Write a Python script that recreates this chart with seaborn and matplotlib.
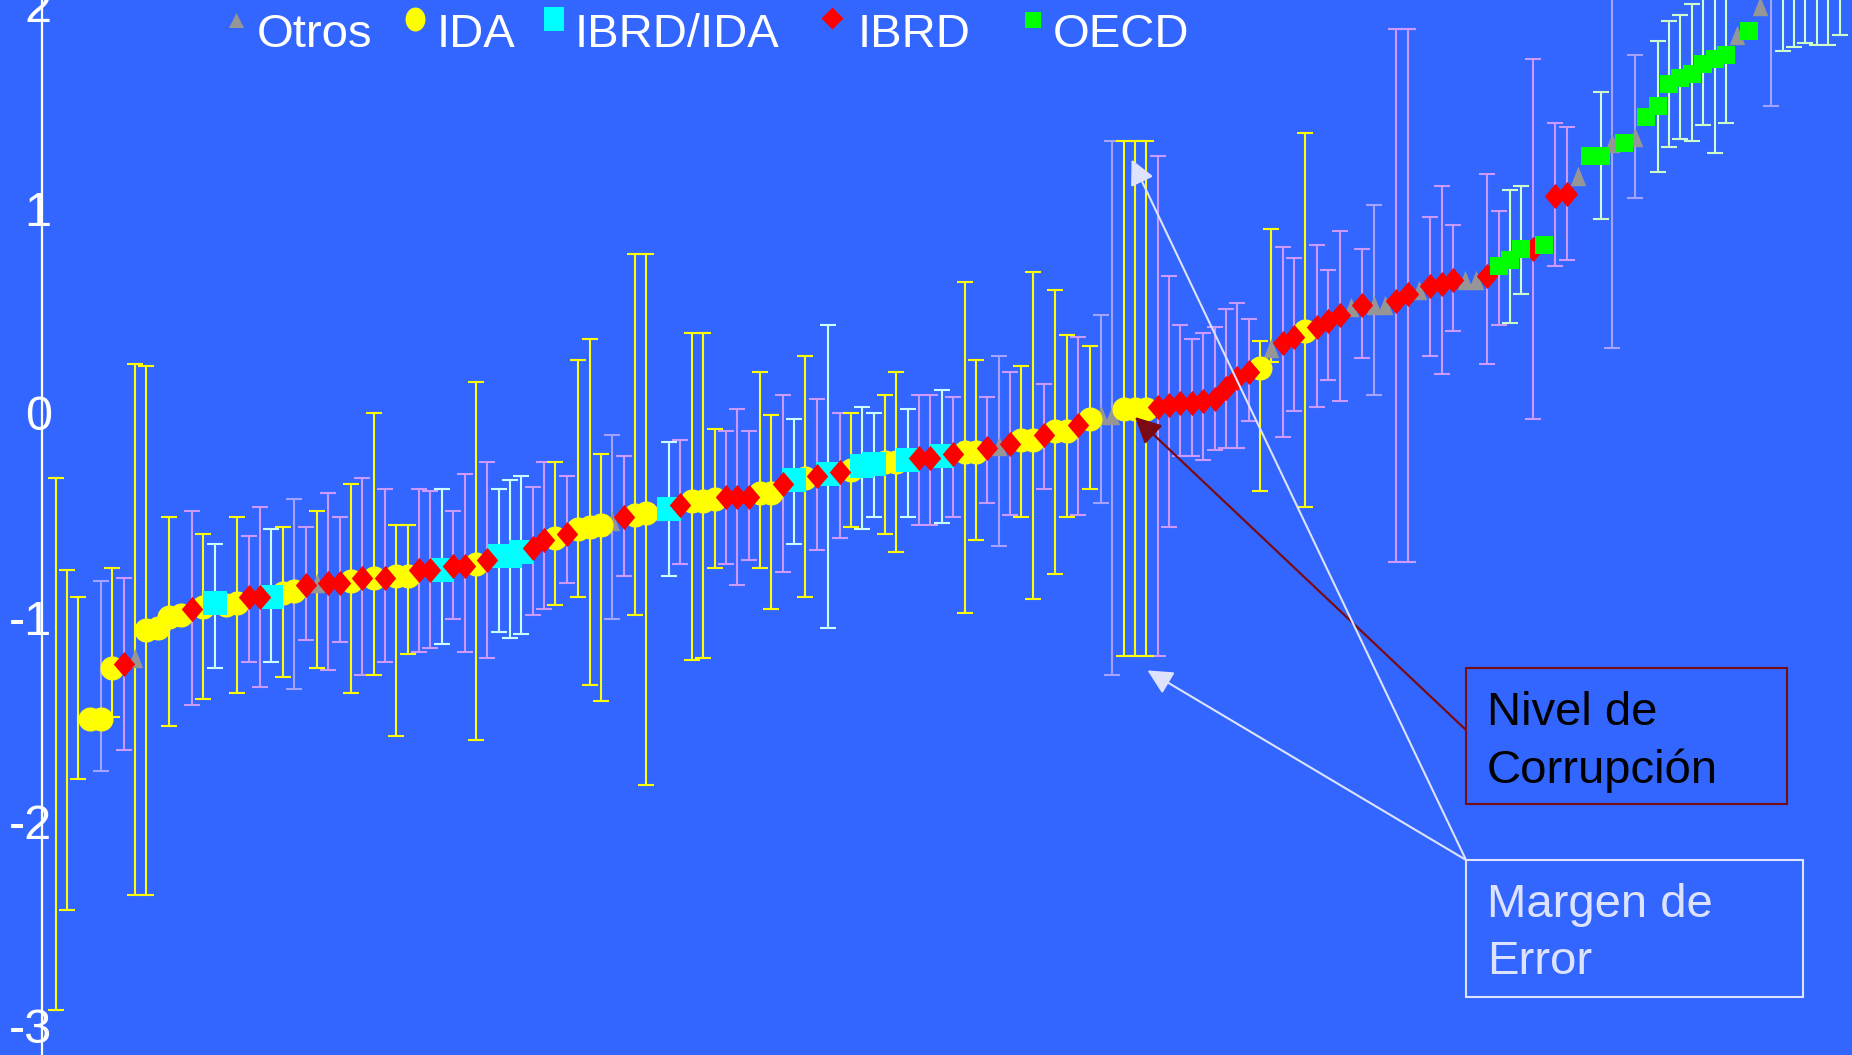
import numpy as np
import pandas as pd
import matplotlib
matplotlib.use("Agg")
import matplotlib.pyplot as plt
import seaborn as sns
from matplotlib.patches import Rectangle

# ---------------- data ----------------
# category of each country (I=IDA, C=IBRD/IDA, B=IBRD, O=Otros, E=OECD)
groups = ("IIIIIIBOII" "IIBICIIBBC" "IIBOBBIBIB" "IIBBCBBIBC" "CCBBIBIIIO"
          "BIIOCBIIIB" "BBIIBCIBCB" "ICCIICBBCB" "IIBOBIIBII" "BIOOIIIBBB"
          "BBBBBBIOBB" "IBBBOBOOBB" "OBBBOOBEEE" "BEBBOEEOEO" "EEEEEEEEOE"
          "OOEEEEEE")
# colour group of each error bar as drawn
bar_groups = ("IIIIOIBIII" "IIBICIIBBC" "IOBIBBIBIB" "IIBBCBBIBC" "CCBBIBIIIO"
              "BIIOCBIIIB" "BBIIBCIBCB" "ICCIICBBCB" "IIBOBIIBII" "BIOOIIIBBB"
              "BBBBBBIIBB" "IBBBOBOOBB" "OBBBOOBBEE" "BEBBOEEOEO" "EEEEEEEEOE"
              "OOEEEEEE")
nan = np.nan
estimate = [
    nan, nan, nan, -1.50, -1.50, -1.25, -1.23, -1.20, -1.06, -1.05,
    -1.00, -0.99, -0.96, -0.95, -0.93, -0.94, -0.93, -0.90, -0.90, -0.90,
    -0.88, -0.87, -0.84, -0.83, -0.83, -0.83, -0.82, -0.81, -0.81, -0.81,
    -0.80, -0.80, -0.77, -0.77, -0.77, -0.75, -0.75, -0.74, -0.72, -0.70,
    -0.70, -0.68, -0.66, -0.62, -0.61, -0.59, -0.57, -0.56, -0.55, -0.53,
    -0.51, -0.50, -0.49, -0.48, -0.47, -0.45, -0.43, -0.43, -0.42, -0.41,
    -0.41, -0.41, -0.39, -0.39, -0.35, -0.33, -0.32, -0.31, -0.30, -0.29,
    -0.28, -0.26, -0.25, -0.24, -0.24, -0.23, -0.22, -0.22, -0.21, -0.20,
    -0.19, -0.19, -0.17, -0.16, -0.15, -0.13, -0.13, -0.11, -0.09, -0.09,
    -0.06, -0.03, -0.01, -0.01, 0.02, 0.02, 0.02, 0.03, 0.04, 0.05,
    0.05, 0.06, 0.07, 0.12, 0.17, 0.20, 0.22, 0.32, 0.34, 0.37,
    0.40, 0.42, 0.45, 0.48, 0.52, 0.53, 0.53, 0.53, 0.55, 0.58,
    0.60, 0.62, 0.63, 0.65, 0.65, 0.65, 0.67, 0.72, 0.75, 0.80,
    0.80, 0.82, 1.06, 1.07, 1.16, 1.26, 1.26, 1.32, 1.32, 1.35,
    1.45, 1.50, 1.61, 1.64, 1.66, 1.71, 1.73, 1.75, 1.85, 1.87,
    1.99, 2.10, 2.12, 2.14, 2.16, 2.18, 2.20, 2.24]
lower = [
    -2.92, -2.43, -1.79, nan, -1.75, -1.49, -1.65, -2.36, -2.36, nan,
    -1.53, nan, -1.43, -1.40, -1.25, nan, -1.37, -1.22, -1.34, -1.22,
    -1.29, -1.35, -1.11, -1.25, -1.26, -1.12, -1.37, -1.28, -1.28, -1.22,
    -1.58, -1.18, -1.17, -1.15, -1.13, -1.01, -1.17, -1.60, -1.20, -1.07,
    -1.10, -1.08, -0.99, -0.96, -0.94, -0.83, -0.90, -1.33, -1.41, -1.01,
    -0.80, -0.99, -1.82, nan, -0.80, -0.74, -1.21, -1.20, -0.76, -0.74,
    -0.84, -0.72, -0.76, -0.96, -0.78, -0.64, -0.90, -0.67, -1.05, -0.61,
    -0.56, -0.57, -0.51, -0.59, -0.68, -0.51, -0.55, -0.55, -0.54, -0.51,
    -0.98, -0.62, -0.44, -0.65, -0.50, -0.51, -0.91, -0.37, -0.79, -0.51,
    -0.50, -0.37, -0.44, -1.28, -1.19, -1.19, -1.19, -1.19, -0.56, -0.21,
    -0.21, -0.23, -0.18, -0.17, -0.17, -0.04, -0.38, 0.25, -0.12, 0.01,
    -0.46, 0.03, 0.16, 0.06, nan, 0.27, 0.09, nan, -0.73, -0.73,
    nan, 0.28, 0.19, 0.40, nan, nan, 0.24, 0.43, 0.44, 0.58,
    -0.03, nan, 0.72, 0.75, nan, nan, 0.95, 0.32, nan, 1.05,
    nan, 1.18, 1.30, 1.34, 1.33, 1.41, 1.27, 1.42, nan, nan,
    nan, 1.50, 1.77, 1.79, 1.81, 1.80, 1.80, 1.85]
upper = [
    -0.32, -0.77, -0.90, nan, -0.82, -0.76, -0.81, 0.24, 0.23, nan,
    -0.51, nan, -0.48, -0.59, -0.64, nan, -0.51, -0.60, -0.46, -0.57,
    -0.56, -0.42, -0.56, -0.48, -0.39, -0.51, -0.35, -0.32, 0.00, -0.37,
    -0.55, -0.55, -0.37, -0.38, -0.37, -0.48, -0.30, 0.15, -0.24, -0.37,
    -0.33, -0.31, -0.36, -0.24, -0.24, -0.31, 0.26, 0.36, -0.20, -0.11,
    -0.21, 0.78, 0.78, nan, -0.14, -0.13, 0.39, 0.39, -0.08, -0.09,
    0.02, -0.09, 0.20, -0.01, 0.09, -0.03, 0.28, 0.07, 0.43, 0.00,
    0.00, 0.03, 0.00, 0.09, 0.20, 0.02, 0.09, 0.09, 0.11, 0.08,
    0.64, 0.26, 0.08, 0.28, 0.20, 0.23, 0.69, 0.14, 0.60, 0.38,
    0.37, 0.33, 0.48, 1.33, 1.33, 1.33, 1.33, 1.26, 0.67, 0.43,
    0.36, 0.39, 0.42, 0.51, 0.54, 0.46, 0.35, 0.90, 0.81, 0.76,
    1.37, 0.82, 0.70, 0.89, nan, 0.80, 1.02, nan, 1.88, 1.88,
    nan, 0.96, 1.11, 0.92, nan, nan, 1.17, 0.99, 1.09, 1.11,
    1.73, nan, 1.42, 1.40, nan, nan, 1.57, 2.30, nan, 1.75,
    nan, 1.82, 1.92, 1.95, 2.00, 2.30, 2.30, 2.30, nan, nan,
    nan, 2.60, 2.60, 2.60, 2.60, 2.60, 2.60, 2.60]

legend_labels = ["Otros", "IDA", "IBRD/IDA", "IBRD", "OECD"]
legend_codes = ["O", "I", "C", "B", "E"]
yticks = [-3, -2, -1, 0, 1, 2]
ytick_labels = ["-3", "-2", "-1", "0", "1", "2"]
box1_lines = ["Nivel de", "Corrupción"]
box2_lines = ["Margen de", "Error"]

# ---------------- styling ----------------
sns.set_style("white")
plt.rcParams["font.family"] = ["Liberation Sans", "DejaVu Sans"]

BG = "#3366FF"
point_color = {"O": "#969696", "I": "#FFFF00", "C": "#00FFFF", "B": "#FF0000", "E": "#00FF00"}
bar_color = {"O": "#A3A3FF", "I": "#FFFF00", "C": "#CCFFFF", "B": "#CC99FF", "E": "#CCFFCC"}

tri = [(0, 1), (-0.8, -1), (0.8, -1)]
diam = [(0, 1), (0.85, 0), (0, -1), (-0.85, 0)]
point_marker = {"O": (tri, 195), "I": ("o", 300), "C": ("s", 300), "B": (diam, 330), "E": ("s", 150)}

W, H = 1852, 1055
fig = plt.figure(figsize=(W / 100, H / 100), dpi=100)
fig.patch.set_facecolor(BG)
ax = fig.add_axes([0, 0, 1, 1])
ax.set_facecolor(BG)

n = len(estimate)
df = pd.DataFrame({
    "pos": np.arange(n),
    "est": np.array(estimate, dtype=float),
    "lo": np.array(lower, dtype=float),
    "hi": np.array(upper, dtype=float),
    "grp": list(groups),
    "bgrp": list(bar_groups),
})

# error bars
for g in ["O", "B", "C", "E", "I"]:
    sub = df[(df.bgrp == g) & df.lo.notna()]
    mid = (sub.lo + sub.hi) / 2
    err = (sub.hi - sub.lo) / 2
    ax.errorbar(sub.pos, mid, yerr=err, fmt="none", ecolor=bar_color[g],
                elinewidth=1.5, capsize=5.8, capthick=1.5, zorder=2)

# points
for g in ["O", "I", "C", "B", "E"]:
    sub = df[(df.grp == g) & df.est.notna()]
    mk, s = point_marker[g]
    sns.scatterplot(data=sub, x="pos", y="est", marker=mk, s=s,
                    color=point_color[g], linewidth=0, ax=ax, zorder=3,
                    legend=False)

ax.set_xlim(-4.886, 158.1)
ax.set_ylim(-3.142, 2.021)
for s in ["top", "right", "bottom"]:
    ax.spines[s].set_visible(False)
ax.spines["left"].set_position(("data", -1.19))
ax.spines["left"].set_color("white")
ax.spines["left"].set_linewidth(1.6)
ax.set_xticks([])
ax.set_yticks(yticks)
ax.set_yticklabels(ytick_labels)
ax.tick_params(axis="y", length=0, pad=-7, labelsize=35, labelcolor="white")
ax.set_xlabel("")
ax.set_ylabel("")

# legend (manual, top row)
def fx(px):
    return px / W

def fy(py):
    return 1 - py / H

ell = [(0.83 * np.cos(t), np.sin(t)) for t in np.linspace(0, 2 * np.pi, 40)]
rect = [(-0.8, -1), (0.8, -1), (0.8, 1), (-0.8, 1)]
tri_l = [(0, 1), (-1, -1), (1, -1)]
sq = [(-1, -1), (1, -1), (1, 1), (-1, 1)]
dia_l = [(0, 1), (1, 0), (0, -1), (-1, 0)]
leg_marker = {"O": (tri_l, 117, 236, 20), "I": (ell, 298, 415, 19),
              "C": (rect, 298, 554, 19), "B": (dia_l, 250, 832, 18),
              "E": (sq, 121, 1033, 19.5)}
leg_text_x = [257, 437, 575, 858, 1053]
for code, lab, tx in zip(legend_codes, legend_labels, leg_text_x):
    mk, s, mx, my = leg_marker[code]
    ax.scatter([fx(mx)], [fy(my)], marker=mk, s=s, color=point_color[code],
               linewidths=0, transform=ax.transAxes, clip_on=False, zorder=6)
    ax.text(fx(tx), fy(47), lab, transform=ax.transAxes, fontsize=34,
            color="white", ha="left", va="baseline", zorder=6)

# annotation boxes
DARK = "#7A0A14"
LIGHT = "#DDE3FF"
ax.add_patch(Rectangle((fx(1466), fy(804)), (1787 - 1466) / W, (804 - 668) / H,
                       transform=ax.transAxes, fill=False, edgecolor=DARK,
                       linewidth=1.5, zorder=6, clip_on=False))
ax.text(fx(1487), fy(725), box1_lines[0], transform=ax.transAxes, fontsize=34,
        color="black", ha="left", va="baseline", zorder=7)
ax.text(fx(1487), fy(783), box1_lines[1], transform=ax.transAxes, fontsize=34,
        color="black", ha="left", va="baseline", zorder=7)
ax.add_patch(Rectangle((fx(1466), fy(997)), (1803 - 1466) / W, (997 - 860) / H,
                       transform=ax.transAxes, fill=False, edgecolor=LIGHT,
                       linewidth=1.5, zorder=6, clip_on=False))
ax.text(fx(1487), fy(917), box2_lines[0], transform=ax.transAxes, fontsize=34,
        color=LIGHT, ha="left", va="baseline", zorder=7)
ax.text(fx(1487), fy(974), box2_lines[1], transform=ax.transAxes, fontsize=34,
        color=LIGHT, ha="left", va="baseline", zorder=7)

# arrows
ax.annotate("", xy=(95.0, -0.02), xycoords="data",
            xytext=(fx(1466), fy(730)), textcoords="axes fraction",
            arrowprops=dict(arrowstyle="-|>", color=DARK, lw=1.6,
                            mutation_scale=40, shrinkA=0, shrinkB=0),
            zorder=8)
ax.annotate("", xy=(94.7, 1.24), xycoords="data",
            xytext=(fx(1466), fy(860)), textcoords="axes fraction",
            arrowprops=dict(arrowstyle="-|>", color=LIGHT, lw=1.5,
                            mutation_scale=38, shrinkA=0, shrinkB=0),
            zorder=8)
ax.annotate("", xy=(96.1, -1.26), xycoords="data",
            xytext=(fx(1466), fy(860)), textcoords="axes fraction",
            arrowprops=dict(arrowstyle="-|>", color=LIGHT, lw=1.5,
                            mutation_scale=38, shrinkA=0, shrinkB=0),
            zorder=8)

fig.savefig("out.png", dpi=100, facecolor=BG)
